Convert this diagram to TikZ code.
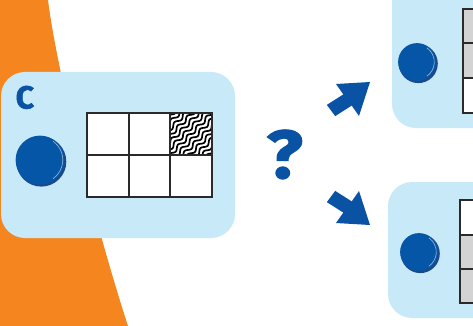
\documentclass[tikz,border=0pt]{standalone}
\usepackage{fontspec}
\setmainfont{Fira Sans}
\newfontfamily\heavyfont[BoldFeatures={FakeBold=1.5}]{Fira Sans}
\definecolor{orng}{HTML}{F5861F}
\definecolor{lblue}{HTML}{C8E9F8}
\definecolor{dblue}{HTML}{0A52A3}
\definecolor{coinblue}{HTML}{0556A6}
\definecolor{coinrim}{HTML}{1B4A8C}
\definecolor{cellgray}{HTML}{D3D3D3}
\definecolor{gridline}{HTML}{2A2A2A}
\tikzset{
  panel/.style={fill=lblue, rounded corners=24pt},
  cellbox/.style={draw=gridline, line width=1.3pt},
  bigarrow/.style={fill=dblue},
}
\newcommand{\mycoin}[3]{%
  \fill[coinrim] (#1+1.3,#2+1.6) circle (#3);
  \fill[coinblue] (#1,#2) circle (#3-0.6);
  \draw[white!60!coinblue, line width=0.6pt] (#1,#2) ++(-55:#3-2.2) arc (-55:55:#3-2.2);
}
\begin{document}
\begin{tikzpicture}[x=1pt,y=-1pt]
\useasboundingbox (0,0) rectangle (473,326);
\clip (0,0) rectangle (473,326);
% orange background
\fill[orng] (-5,-5) -- (48,-5) -- (48,0) .. controls (56,65) and (92,215) .. (128,326) -- (128,331) -- (-5,331) -- cycle;
% main panel
\fill[panel] (1,72) rectangle (235,238);
\node[anchor=base west, inner sep=0pt, text=dblue, font=\heavyfont\bfseries\fontsize{32}{32}\selectfont] (lbl) at (15.5,108.5) {C};
\mycoin{40}{160}{25}
% main grid
\fill[white] (87,113) rectangle (212,197);
\begin{scope}
  \clip (170,113) rectangle (212,155);
  \foreach \k in {-9,...,9} {
    \draw[line width=1.7pt, black] plot[domain=-35:35, samples=90, smooth]
      ({191 + 0.7071*\x + 0.7071*(\k*4.6 + 1.7*sin(\x*27))},
       {134 - 0.7071*\x + 0.7071*(\k*4.6 + 1.7*sin(\x*27))});
  }
\end{scope}
\draw[cellbox] (87,113) rectangle (212,197);
\draw[cellbox] (129,113) -- (129,197) (170,113) -- (170,197) (87,155) -- (212,155);
% question mark
\node[anchor=base west, inner sep=0pt, text=dblue, xscale=1.12, font=\heavyfont\bfseries\fontsize{68}{68}\selectfont] (q) at (266,178) {?};
% arrows
\fill[bigarrow] (326.8,104.9) -- (343.3,94.4) -- (336,84) -- (370,82) -- (359,116) -- (351.7,105.6) -- (335.2,116.1) -- cycle;
\fill[bigarrow] (326.8,202.1) -- (343.3,212.6) -- (336,223) -- (370,225) -- (359,191) -- (351.7,201.4) -- (335.2,190.9) -- cycle;
% upper right panel
\fill[panel] (392,-30) rectangle (500,128);
\mycoin{417}{62}{19.5}
\fill[cellgray] (463,9) rectangle (480,78);
\fill[white] (463,78) rectangle (480,113);
\draw[cellbox] (480,9) -- (463,9) -- (463,113) -- (480,113);
\draw[cellbox] (463,43) -- (480,43) (463,78) -- (480,78);
% lower right panel
\fill[panel] (388,182) rectangle (500,318);
\mycoin{419}{252}{19.5}
\fill[white] (460,200) rectangle (480,235);
\fill[cellgray] (460,235) rectangle (480,303);
\draw[cellbox] (480,200) -- (460,200) -- (460,303) -- (480,303);
\draw[cellbox] (460,235) -- (480,235) (460,269) -- (480,269);
\end{tikzpicture}
\end{document}
